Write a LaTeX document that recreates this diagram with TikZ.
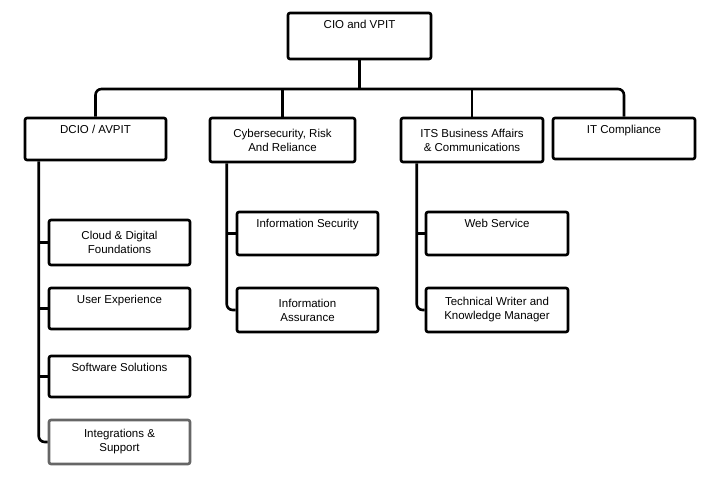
\documentclass[tikz,border=0pt]{standalone}
\usepackage{fontspec}
\setmainfont{Liberation Sans}
\usetikzlibrary{calc}
\begin{document}
\begin{tikzpicture}[x=1pt,y=-1pt,
  box/.style={draw=black,line width=2.6pt,rounded corners=2pt,inner sep=0pt},
  txt/.style={font=\fontsize{11.5}{14}\selectfont,align=center,inner sep=0pt},
  conn/.style={line width=2.6pt,rounded corners=6pt}]
\useasboundingbox (0,0) rectangle (720,489);
% boxes: corners
\node[box,minimum width=143pt,minimum height=46pt] (cio) at (359.5,36) {};
\node[txt,anchor=north] (cioT) at ([yshift=-8pt]cio.north) {CIO and VPIT};
\node[box,minimum width=141pt,minimum height=42pt] (dcio) at (95.5,139) {};
\node[txt,anchor=north] (dcioT) at ([yshift=-8pt]dcio.north) {DCIO / AVPIT};
\node[box,minimum width=145pt,minimum height=44pt] (cyb) at (282.5,140) {};
\node[txt] (cybT) at (cyb) {Cybersecurity, Risk\\And Reliance};
\node[box,minimum width=142pt,minimum height=44pt] (its) at (472,140) {};
\node[txt] (itsT) at (its) {ITS Business Affairs\\\& Communications};
\node[box,minimum width=142pt,minimum height=41pt] (comp) at (624,138.5) {};
\node[txt,anchor=north] (compT) at ([yshift=-8pt]comp.north) {IT Compliance};
% DCIO children
\node[box,minimum width=141pt,minimum height=45pt] (cloud) at (119.5,242.5) {};
\node[txt] (cloudT) at (cloud) {Cloud \& Digital\\Foundations};
\node[box,minimum width=141pt,minimum height=41pt] (ux) at (119.5,308.5) {};
\node[txt,anchor=north] (uxT) at ([yshift=-8pt]ux.north) {User Experience};
\node[box,minimum width=141pt,minimum height=41pt] (sw) at (119.5,376.5) {};
\node[txt,anchor=north] (swT) at ([yshift=-8pt]sw.north) {Software Solutions};
\node[box,draw=black!60,minimum width=141pt,minimum height=44pt] (integ) at (119.5,442) {};
\node[txt] (integT) at (integ) {Integrations \&\\Support};
% Cyber children
\node[box,minimum width=141pt,minimum height=43pt] (isec) at (307.5,233.5) {};
\node[txt,anchor=north] (isecT) at ([yshift=-8pt]isec.north) {Information Security};
\node[box,minimum width=141pt,minimum height=44pt] (iass) at (307.5,310) {};
\node[txt] (iassT) at (iass) {Information\\Assurance};
% ITS children
\node[box,minimum width=142pt,minimum height=43pt] (web) at (497,233.5) {};
\node[txt,anchor=north] (webT) at ([yshift=-8pt]web.north) {Web Service};
\node[box,minimum width=142pt,minimum height=44pt] (tw) at (497,310) {};
\node[txt] (twT) at (tw) {Technical Writer and\\Knowledge Manager};
% bus
\coordinate (bus) at (359.5,89);
\draw[conn] (cio.south) -- (bus);
\draw[conn] (dcio.north) |- (bus) -| (comp.north);
\draw[conn] (cyb.north) -- (cyb.north |- bus);
\draw[conn] (its.north) -- (its.north |- bus);
% spines
\coordinate (s1) at ([xshift=15pt]dcio.south west);
\coordinate (s2) at ([xshift=18pt]cyb.south west);
\coordinate (s3) at ([xshift=17pt]its.south west);
\draw[conn] (s1) |- (integ.west);
\draw[conn] (s2) |- (iass.west);
\draw[conn] (s3) |- (tw.west);
\draw[line width=2.6pt] (s1 |- cloud.west) -- (cloud.west);
\draw[line width=2.6pt] (s1 |- ux.west) -- (ux.west);
\draw[line width=2.6pt] (s1 |- sw.west) -- (sw.west);
\draw[line width=2.6pt] (s2 |- isec.west) -- (isec.west);
\draw[line width=2.6pt] (s3 |- web.west) -- (web.west);
\end{tikzpicture}
\end{document}
